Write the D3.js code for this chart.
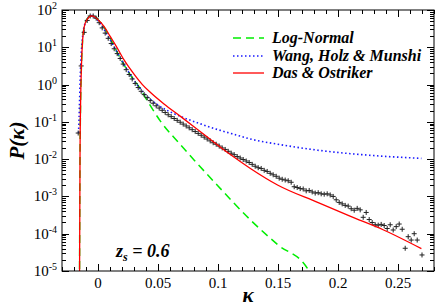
<!DOCTYPE html>
<html><head><meta charset="utf-8">
<script src="https://cdn.jsdelivr.net/npm/d3@7"></script>
<style>
html,body{margin:0;padding:0;background:#fff;}
svg{display:block;}
</style></head>
<body><svg id="c" width="436" height="307" font-family="'Liberation Serif', 'Times New Roman', serif"></svg>
<script>
// ---- data ----
const xTicks = [0, 0.05, 0.1, 0.15, 0.2, 0.25];
const xTickLabels = ["0", "0.05", "0.1", "0.15", "0.2", "0.25"];
const yDecades = [-5, -4, -3, -2, -1, 0, 1, 2];

// Das & Ostriker (red)
const redK = [-0.0154, -0.0150, -0.0145, -0.0138, -0.0128, -0.0115, -0.0090, -0.0055, -0.0030, 0.000, 0.005, 0.010, 0.015, 0.0217, 0.030, 0.037, 0.044, 0.055, 0.069, 0.090, 0.110, 0.127, 0.150, 0.183, 0.210, 0.238, 0.2695];
const redLogP = [-5.3, -2.0, -0.5, 0.5, 1.2, 1.55, 1.75, 1.84, 1.82, 1.74, 1.56, 1.30, 1.04, 0.66, 0.28, 0.00, -0.22, -0.52, -0.86, -1.38, -1.87, -2.25, -2.70, -3.16, -3.53, -3.90, -4.40];

// Wang, Holz & Munshi (blue dotted)
const blueK = [-0.0162, -0.0155, -0.0148, -0.0140, -0.0128, -0.0110, -0.0080, -0.0050, -0.0020, 0.002, 0.008, 0.015, 0.025, 0.038, 0.050, 0.060, 0.070, 0.085, 0.100, 0.115, 0.127, 0.150, 0.183, 0.220, 0.2695];
const blueLogP = [-1.30, -0.6, 0.2, 0.8, 1.3, 1.62, 1.80, 1.85, 1.79, 1.63, 1.32, 0.92, 0.36, -0.22, -0.55, -0.73, -0.87, -1.05, -1.21, -1.35, -1.46, -1.60, -1.76, -1.88, -1.98];

// Log-Normal (green dashed)
const greenK = [-0.0154, -0.0150, -0.0145, -0.0138, -0.0128, -0.0115, -0.0090, -0.0055, -0.0030, 0.000, 0.005, 0.010, 0.020, 0.030, 0.034, 0.041, 0.052, 0.0675, 0.080, 0.100, 0.127, 0.150, 0.1745, 0.1765];
const greenLogP = [-5.3, -2.0, -0.5, 0.5, 1.2, 1.55, 1.76, 1.85, 1.83, 1.74, 1.54, 1.25, 0.62, 0.12, -0.05, -0.43, -0.98, -1.57, -2.02, -2.72, -3.63, -4.30, -4.93, -5.05];

// simulation histogram (crosses)
const crossK = [-0.0165, -0.0140, -0.0115, -0.0090, -0.0065, -0.0040, -0.0015, 0.0010, 0.0035, 0.0060, 0.0085, 0.0110, 0.0135, 0.0160, 0.0185, 0.0210, 0.0235, 0.0260, 0.0285, 0.0310, 0.0335, 0.0360, 0.0385, 0.0410, 0.0435, 0.0460, 0.0485, 0.0510, 0.0535, 0.0560, 0.0585, 0.0610, 0.0635, 0.0660, 0.0685, 0.0710, 0.0735, 0.0760, 0.0785, 0.0810, 0.0835, 0.0860, 0.0885, 0.0910, 0.0935, 0.0960, 0.0985, 0.1010, 0.1035, 0.1060, 0.1085, 0.1110, 0.1135, 0.1160, 0.1185, 0.1210, 0.1235, 0.1260, 0.1285, 0.1310, 0.1335, 0.1360, 0.1385, 0.1410, 0.1435, 0.1460, 0.1485, 0.1510, 0.1535, 0.1560, 0.1585, 0.1610, 0.1635, 0.1660, 0.1685, 0.1710, 0.1735, 0.1760, 0.1785, 0.1810, 0.1835, 0.1860, 0.1885, 0.1910, 0.1935, 0.1960, 0.1985, 0.2010, 0.2035, 0.2060, 0.2085, 0.2110, 0.2135, 0.2160, 0.2185, 0.2210, 0.2235, 0.2260, 0.2285, 0.2310, 0.2335, 0.2360, 0.2385, 0.2410, 0.2435, 0.2460, 0.2485, 0.2510, 0.2535, 0.2560, 0.2585, 0.2610, 0.2635, 0.2660, 0.2700];
const crossLogP = [-1.30, 0.50, 1.40, 1.72, 1.84, 1.84, 1.78, 1.66, 1.52, 1.38, 1.24, 1.10, 0.96, 0.83, 0.70, 0.55, 0.40, 0.27, 0.15, 0.03, -0.08, -0.18, -0.27, -0.35, -0.43, -0.50, -0.57, -0.63, -0.69, -0.75, -0.81, -0.86, -0.91, -0.96, -1.01, -1.06, -1.11, -1.16, -1.21, -1.26, -1.31, -1.36, -1.41, -1.46, -1.51, -1.56, -1.60, -1.65, -1.70, -1.74, -1.79, -1.84, -1.88, -1.93, -1.97, -2.01, -2.05, -2.09, -2.14, -2.19, -2.23, -2.25, -2.30, -2.33, -2.38, -2.42, -2.46, -2.51, -2.54, -2.56, -2.58, -2.62, -2.74, -2.76, -2.79, -2.80, -2.85, -2.84, -2.88, -2.91, -2.90, -2.93, -2.94, -2.93, -2.96, -3.00, -3.09, -3.16, -3.20, -3.24, -3.26, -3.33, -3.37, -3.32, -3.36, -3.56, -3.43, -3.62, -3.70, -3.76, -3.77, -3.75, -3.78, -3.86, -3.76, -3.90, -3.81, -3.74, -3.88, -4.39, -4.08, -4.17, -4.00, -4.17, -4.57];

const legendLabels = ["Log-Normal", "Wang, Holz & Munshi", "Das & Ostriker"];

// ---- layout ----
const FONT = "'Liberation Serif', 'Times New Roman', serif";
const svg = d3.select("#c");
const L = 62, R = 434, T = 10, B = 271;
const x = d3.scaleLinear().domain([-0.03, 0.28]).range([L, R]);
const y = d3.scaleLog().domain([1e-5, 1e2]).range([B, T]);

svg.append("defs").append("clipPath").attr("id", "clip")
  .append("rect").attr("x", L).attr("y", T).attr("width", R - L).attr("height", B - T);

const plot = svg.append("g").attr("clip-path", "url(#clip)");

function series(k, lp) { return k.map((v, i) => [v, Math.pow(10, lp[i])]); }
const line = d3.line().x(d => x(d[0])).y(d => y(d[1])).curve(d3.curveMonotoneX);

plot.append("path").datum(series(greenK, greenLogP)).attr("d", line)
  .attr("fill", "none").attr("stroke", "#00ee00").attr("stroke-width", 1.5).attr("stroke-dasharray", "8,5");
plot.append("path").datum(series(blueK, blueLogP)).attr("d", line)
  .attr("fill", "none").attr("stroke", "#1a1aff").attr("stroke-width", 1.6).attr("stroke-dasharray", "1.5,2.5");

// crosses
const cs = 2.5;
plot.append("g").selectAll("path").data(series(crossK, crossLogP)).join("path")
  .attr("d", d => { const px = x(d[0]), py = y(d[1]); return `M${px - cs},${py}H${px + cs}M${px},${py - cs}V${py + cs}`; })
  .attr("stroke", "#222").attr("stroke-width", 1);

plot.append("path").datum(series(redK, redLogP)).attr("d", line)
  .attr("fill", "none").attr("stroke", "#ff0000").attr("stroke-width", 1.3);

// ---- axes ----
const ax = svg.append("g").attr("stroke", "#000").attr("stroke-width", 1);
ax.append("rect").attr("x", L).attr("y", T).attr("width", R - L).attr("height", B - T).attr("fill", "none");

const xMinor = d3.range(-3, 29).map(i => i / 100);
xMinor.forEach(v => {
  const major = xTicks.some(t => Math.abs(t - v) < 1e-9);
  const len = major ? 7 : 4;
  const px = Math.round(x(v)) + 0.5;
  ax.append("line").attr("x1", px).attr("x2", px).attr("y1", B).attr("y2", B - len);
  ax.append("line").attr("x1", px).attr("x2", px).attr("y1", T).attr("y2", T + len);
});
yDecades.forEach(e => {
  for (let m = 1; m <= 9; m++) {
    if (e === 2 && m > 1) break;
    const v = m * Math.pow(10, e);
    const py = Math.round(y(v)) + 0.5;
    const len = m === 1 ? 7 : 4;
    ax.append("line").attr("x1", L).attr("x2", L + len).attr("y1", py).attr("y2", py);
    ax.append("line").attr("x1", R).attr("x2", R - len).attr("y1", py).attr("y2", py);
  }
});

// labels
svg.append("g").selectAll("text").data(xTicks).join("text")
  .attr("font-family", FONT)
  .attr("x", d => x(d)).attr("y", B + 17).attr("text-anchor", "middle")
  .attr("font-size", 15).text((d, i) => xTickLabels[i]);

const yl = svg.append("g").selectAll("text").data(yDecades).join("text")
  .attr("font-family", FONT)
  .attr("x", L - 5).attr("y", d => y(Math.pow(10, d)) + 5).attr("text-anchor", "end").attr("font-size", 15);
yl.each(function (d) {
  const t = d3.select(this);
  t.append("tspan").text("10");
  t.append("tspan").attr("dy", -6).attr("font-size", 10).text(d);
});

svg.append("text").attr("font-family", FONT).attr("transform", `translate(24,${(T + B) / 2}) rotate(-90)`)
  .attr("text-anchor", "middle").attr("font-size", 21).attr("font-weight", "bold").attr("font-style", "italic")
  .text("P(κ)");
svg.append("text").attr("font-family", FONT).attr("x", x(0.125)).attr("y", 302).attr("text-anchor", "middle")
  .attr("font-size", 21).attr("font-weight", "bold").attr("font-style", "italic").text("κ");

const z = svg.append("text").attr("font-family", FONT).attr("x", 116).attr("y", 257).attr("font-size", 18)
  .attr("font-weight", "bold").attr("font-style", "italic");
z.append("tspan").text("z");
z.append("tspan").attr("dy", 4).attr("font-size", 12).text("s");
z.append("tspan").attr("dy", -4).text(" = 0.6");

// legend
const lg = svg.append("g");
const legY = [38, 56, 73];
const legStyle = [
  { c: "#00ee00", d: "8,5", w: 1.5 },
  { c: "#1a1aff", d: "1.5,2.5", w: 1.6 },
  { c: "#ff0000", d: null, w: 1.3 }
];
legendLabels.forEach((lab, i) => {
  lg.append("line").attr("x1", 233).attr("x2", 264).attr("y1", legY[i]).attr("y2", legY[i])
    .attr("stroke", legStyle[i].c).attr("stroke-width", legStyle[i].w)
    .attr("stroke-dasharray", legStyle[i].d);
  lg.append("text").attr("font-family", FONT).attr("x", 272).attr("y", legY[i] + 5).attr("font-size", 16)
    .attr("font-weight", "bold").attr("font-style", "italic").text(lab);
});
</script></body></html>
